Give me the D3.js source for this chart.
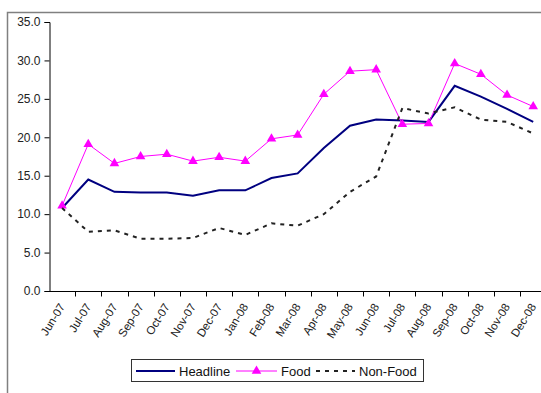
<!DOCTYPE html>
<html>
<head>
<meta charset="utf-8">
<script src="https://cdn.jsdelivr.net/npm/d3@7/dist/d3.min.js"></script>
<style>
  html, body { margin: 0; padding: 0; background: #fff; }
  svg { display: block; font-family: "Liberation Sans", Arial, sans-serif; }
</style>
</head>
<body>
<svg id="chart" width="541" height="393"></svg>
<script>
// Monthly inflation, year-on-year (%)
const months = ["Jun-07","Jul-07","Aug-07","Sep-07","Oct-07","Nov-07","Dec-07",
  "Jan-08","Feb-08","Mar-08","Apr-08","May-08","Jun-08","Jul-08","Aug-08",
  "Sep-08","Oct-08","Nov-08","Dec-08"];
const headline = [10.8,14.5,12.9,12.8,12.8,12.4,13.1,13.1,14.7,15.3,18.6,21.5,22.3,22.2,22.0,26.7,25.3,23.7,22.0];
const food     = [11.1,19.1,16.6,17.5,17.8,16.9,17.4,16.9,19.8,20.3,25.6,28.6,28.8,21.7,21.8,29.6,28.2,25.5,24.0];
const nonFood  = [10.8,7.7,7.9,6.8,6.8,6.9,8.2,7.3,8.8,8.5,10.0,12.9,14.9,23.8,23.1,23.9,22.3,22.0,20.5];
const yTicks = [0,5,10,15,20,25,30,35];

const series = [
  { name: "Headline", values: headline, color: "#000080", width: 2, dash: null, marker: false },
  { name: "Food",     values: food,     color: "#ff00ff", width: 1, dash: null, marker: true },
  { name: "Non-Food", values: nonFood,  color: "#222222", width: 2, dash: "4,5", marker: false }
];

const svg = d3.select("#chart");

// outer chart frame
svg.append("path")
  .attr("d", "M7.5,393 V12.5 H541")
  .attr("fill", "none")
  .attr("stroke", "#808080")
  .attr("stroke-width", 1.5);

const x = d3.scaleBand().domain(months).range([49, 546.3]).padding(0);
const y = d3.scaleLinear().domain([0, 35]).range([291, 22]);
const cx = d => x(d) + x.bandwidth() / 2;

// y axis
const yAxis = svg.append("g")
  .attr("transform", "translate(49.5,0)")
  .call(d3.axisLeft(y).tickValues(yTicks).tickFormat(d3.format(".1f")).tickSize(5).tickPadding(4));
yAxis.selectAll("path, line").attr("stroke", "#000");
yAxis.selectAll("text").attr("font-size", 12).attr("fill", "#222")
  .attr("font-family", "Liberation Sans, Arial, sans-serif");

// x axis: labels centred on months, ticks on month boundaries
const xAxis = svg.append("g")
  .attr("transform", "translate(0,291.5)")
  .call(d3.axisBottom(x).tickSize(0).tickPadding(0));
xAxis.select(".domain").attr("stroke", "#000").attr("d", "M49.5,0H541");
xAxis.selectAll("text")
  .attr("font-size", 11.5)
  .attr("fill", "#222")
  .attr("font-family", "Liberation Sans, Arial, sans-serif")
  .attr("text-anchor", "end")
  .attr("dy", "0.35em")
  .attr("transform", "translate(0,13) rotate(-58)");
xAxis.selectAll(".boundary")
  .data(months.slice(1).concat(["end"]))
  .enter().append("line")
  .attr("class", "boundary")
  .attr("x1", (d, i) => Math.round(x(months[i]) + x.bandwidth()) + 0.5)
  .attr("x2", (d, i) => Math.round(x(months[i]) + x.bandwidth()) + 0.5)
  .attr("y1", 0).attr("y2", 5)
  .attr("stroke", "#000");

// lines
const line = d3.line().x((d, i) => cx(months[i])).y(d => y(d));
series.forEach(s => {
  svg.append("path")
    .datum(s.values)
    .attr("fill", "none")
    .attr("stroke", s.color)
    .attr("stroke-width", s.width)
    .attr("stroke-dasharray", s.dash)
    .attr("d", line);
  if (s.marker) {
    svg.append("g").selectAll("path")
      .data(s.values)
      .enter().append("path")
      .attr("d", d3.symbol(d3.symbolTriangle, 40)())
      .attr("transform", (d, i) => `translate(${cx(months[i])},${y(d)})`)
      .attr("fill", s.color);
  }
});

// legend
const legend = svg.append("g");
legend.append("rect")
  .attr("x", 131.5).attr("y", 359.5).attr("width", 292).attr("height", 22)
  .attr("fill", "#fff").attr("stroke", "#333").attr("stroke-width", 1);
const legendX = [136, 236, 316];
const legendW = [39, 41, 39];
series.forEach((s, i) => {
  const g = legend.append("g").attr("transform", `translate(${legendX[i]},371)`);
  g.append("line")
    .attr("x1", 0).attr("x2", legendW[i]).attr("y1", 0).attr("y2", 0)
    .attr("stroke", s.color).attr("stroke-width", s.width)
    .attr("stroke-dasharray", s.dash);
  if (s.marker) {
    g.append("path")
      .attr("d", d3.symbol(d3.symbolTriangle, 40)())
      .attr("transform", `translate(${legendW[i] / 2},0)`)
      .attr("fill", s.color);
  }
  g.append("text")
    .attr("x", legendW[i] + 4).attr("y", 0).attr("dy", "0.36em")
    .attr("font-size", 13).attr("fill", "#111")
    .text(s.name);
});
</script>
</body>
</html>
